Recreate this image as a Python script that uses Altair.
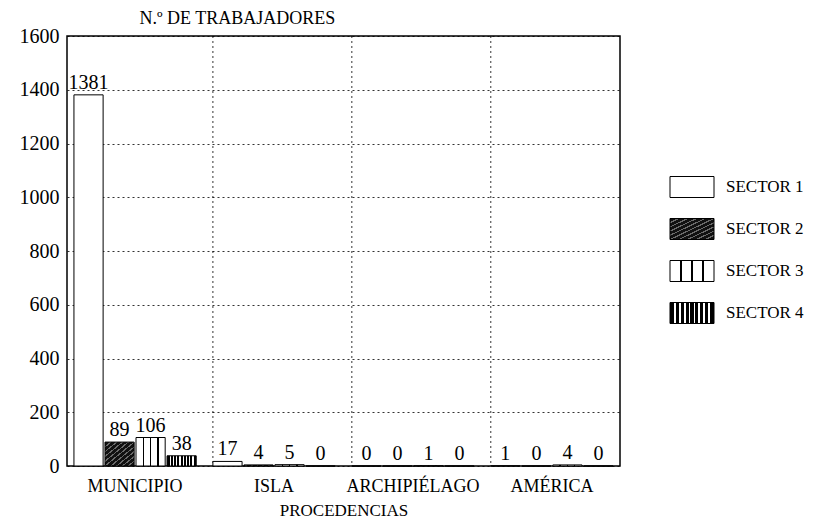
import altair as alt
import pandas as pd

categories = ["MUNICIPIO", "ISLA", "ARCHIPIÉLAGO", "AMÉRICA"]
sectors = ["SECTOR 1", "SECTOR 2", "SECTOR 3", "SECTOR 4"]
sector1 = [1381, 17, 0, 1]
sector2 = [89, 4, 0, 0]
sector3 = [106, 5, 1, 4]
sector4 = [38, 0, 0, 0]
y_ticks = [0, 200, 400, 600, 800, 1000, 1200, 1400, 1600]

rows = []
for s, vals in zip(sectors, [sector1, sector2, sector3, sector4]):
    for c, v in zip(categories, vals):
        rows.append({"cat": c, "sector": s, "n": v})
df = pd.DataFrame(rows)


def stripes(bg, fg, positions, w, x2=1, y2=0):
    stops = [alt.GradientStop(offset=0, color=bg)]
    for p in positions:
        a, b = max(p - w / 2, 0), min(p + w / 2, 1)
        stops += [alt.GradientStop(offset=a, color=bg), alt.GradientStop(offset=a, color=fg),
                  alt.GradientStop(offset=b, color=fg), alt.GradientStop(offset=b, color=bg)]
    stops.append(alt.GradientStop(offset=1, color=bg))
    return alt.LinearGradient(gradient="linear", stops=stops, x1=0, y1=0, x2=x2, y2=y2)


fills = [
    "white",
    stripes("#111111", "#6a6a6a", [0.1, 0.2, 0.3, 0.4, 0.5, 0.6, 0.7, 0.8, 0.9], 0.03, x2=1, y2=1),
    stripes("white", "black", [0.25, 0.5, 0.75], 0.05),
    stripes("black", "white", [i / 9 for i in range(1, 9)], 0.04),
]

x_scale = alt.Scale(domain=categories, paddingInner=0.12, paddingOuter=0.05)
x_axis = alt.Axis(title="PROCEDENCIAS", labelAngle=0, ticks=False, domain=False, grid=False,
                  labelPadding=11, labelFontSize=18, labelColor="black",
                  titleFontSize=17, titlePadding=7, titleFontWeight="normal", titleColor="black")
x_enc = alt.X("cat:N", sort=categories, scale=x_scale, axis=x_axis)
xo_enc = alt.XOffset("sector:N", sort=sectors, scale=alt.Scale(domain=sectors, paddingInner=0.06))
y_enc = alt.Y(
    "n:Q", scale=alt.Scale(domain=[0, 1600]),
    axis=alt.Axis(values=y_ticks, format="d", title="N.º DE TRABAJADORES", titleAngle=0, titleAlign="left",
                  titleBaseline="bottom", titleX=72, titleY=-9, ticks=False, domain=False,
                  grid=True, gridDash=[2, 3], gridColor="black", gridOpacity=0.8,
                  labelFontSize=20, labelPadding=8, labelColor="black",
                  titleFontSize=18, titleFontWeight="normal", titleColor="black"),
)

base = alt.Chart(df)
layers = []
for s, f in zip(sectors, fills):
    layers.append(
        base.transform_filter(alt.datum.sector == s)
        .mark_bar(fill=f, stroke="black", strokeWidth=1)
        .encode(x=x_enc, xOffset=xo_enc, y=y_enc)
    )

labels = base.mark_text(baseline="bottom", dy=-2, fontSize=20, color="black").encode(
    x=x_enc, xOffset=xo_enc, y=y_enc, text="n:Q"
)

rules = alt.Chart(pd.DataFrame({"cat": categories[1:]})).mark_rule(
    strokeDash=[2, 3], color="black", opacity=0.8
).encode(
    x=alt.X("cat:N", sort=categories, bandPosition=0, scale=x_scale, axis=x_axis)
)

main = alt.layer(rules, *layers, labels).properties(
    width=553, height=430, view=alt.ViewBackground(stroke="black", strokeWidth=1.5)
)

leg_df = pd.DataFrame({"sector": sectors})
leg_y = alt.Y("sector:N", sort=sectors, axis=None,
              scale=alt.Scale(domain=sectors, range=[130, 298], paddingInner=0.5, paddingOuter=0.25))
leg_base = alt.Chart(leg_df)
leg_layers = []
for s, f in zip(sectors, fills):
    leg_layers.append(
        leg_base.transform_filter(alt.datum.sector == s)
        .mark_bar(fill=f, stroke="black", strokeWidth=1)
        .encode(x=alt.value(0), x2=alt.value(44), y=leg_y)
    )
leg_text = leg_base.mark_text(align="left", baseline="middle", fontSize=17, color="black").encode(
    x=alt.value(56), y=leg_y, text="sector:N"
)
legend = alt.layer(*leg_layers, leg_text).properties(
    width=120, height=430, view=alt.ViewBackground(stroke=None)
)

chart = alt.hconcat(main, legend, spacing=48).configure(
    font="Liberation Serif", padding={"left": 10, "top": 0, "right": 0, "bottom": 0}
)

chart.save("out.html", embed_options={"renderer": "svg", "actions": False})
